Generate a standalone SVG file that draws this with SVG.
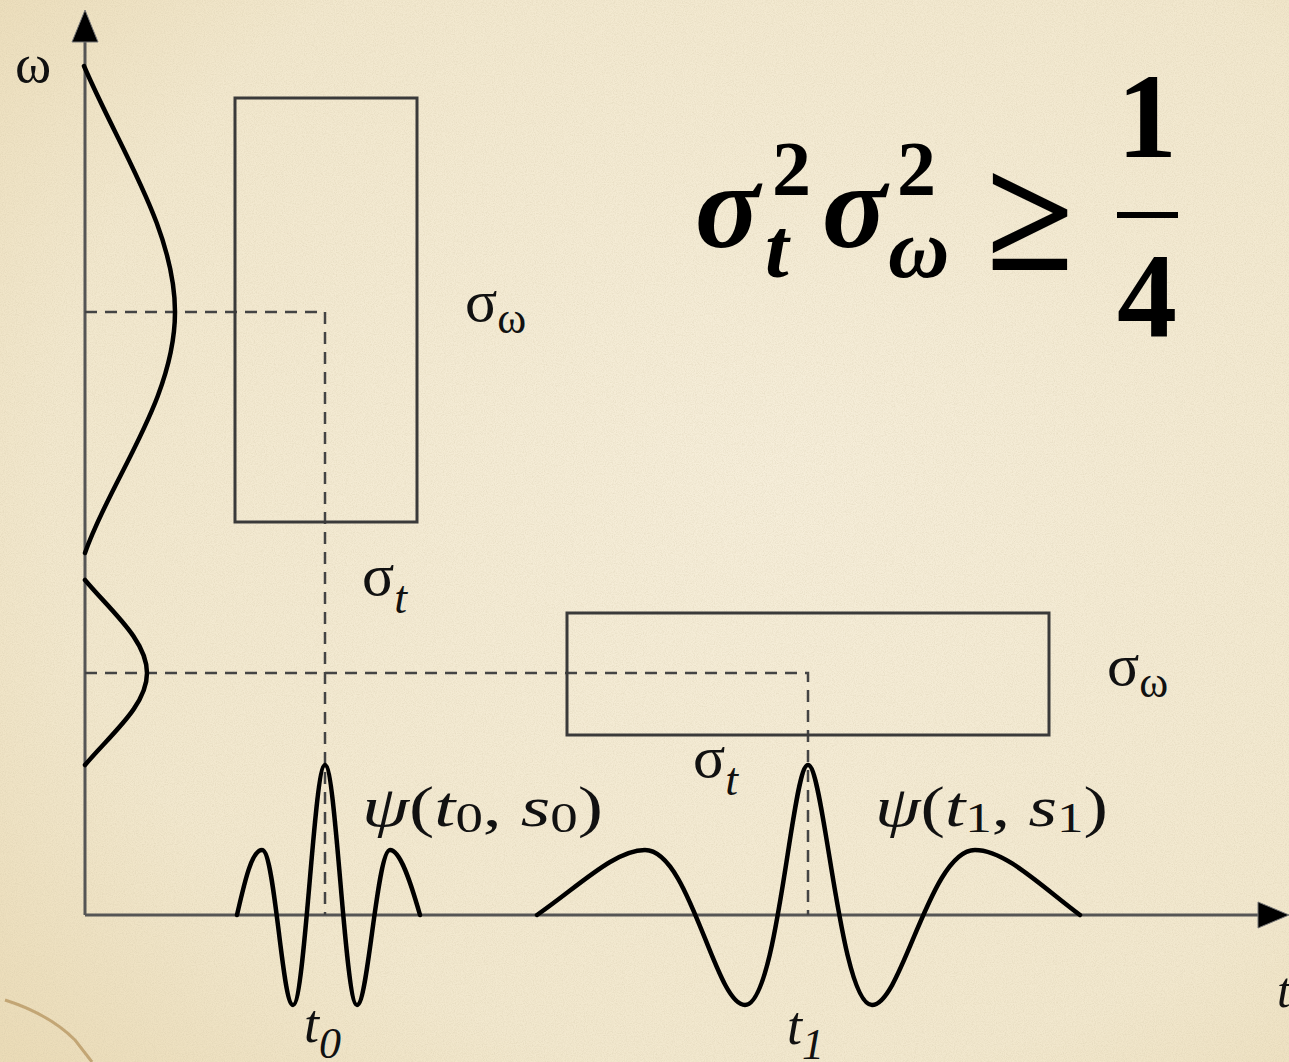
<svg xmlns="http://www.w3.org/2000/svg" width="1289" height="1062" viewBox="0 0 1289 1062">
<defs>
<radialGradient id="bg" cx="0.6" cy="0.45" r="0.8">
<stop offset="0" stop-color="#F6EEDA"/>
<stop offset="0.7" stop-color="#F2E8CE"/>
<stop offset="1" stop-color="#EBDCB8"/>
</radialGradient>
<filter id="paper" x="0" y="0" width="100%" height="100%">
<feTurbulence type="fractalNoise" baseFrequency="0.9" numOctaves="3" seed="4"/>
<feColorMatrix type="matrix" values="0 0 0 0 0.6  0 0 0 0 0.52  0 0 0 0 0.35  1.1 0 0 0 -0.4"/>
</filter>
<style>
.axis{stroke:#555;stroke-width:3;fill:none}
.head{fill:#000;stroke:#777;stroke-width:1}
.curve{stroke:#000;stroke-width:4.5;fill:none;stroke-linejoin:round;stroke-linecap:round}
.box{stroke:#3a3a3a;stroke-width:3;fill:none}
.dash{stroke:#444;stroke-width:2.5;stroke-dasharray:12 8;fill:none}
.lbl{font-family:"Liberation Serif","DejaVu Serif",serif;fill:#111}
.it{font-style:italic}
.fm{font-family:"Liberation Serif","DejaVu Serif",serif;fill:#000;font-weight:bold}
</style>
</defs>
<g id="background">
<rect width="1289" height="1062" fill="url(#bg)"/>
<rect width="1289" height="1062" filter="url(#paper)" opacity="0.5"/>
<path d="M5,1000 C30,1008 55,1020 75,1040 L92,1062" stroke="#A88248" stroke-width="3" fill="none" opacity="0.6"/>
</g>
<g id="axes">
<line class="axis" x1="85" y1="915" x2="85" y2="40"/>
<polygon class="head" points="85,10 72,42 98,42"/>
<line class="axis" x1="85" y1="915" x2="1262" y2="915"/>
<polygon class="head" points="1289,915 1258,902 1258,928"/>
</g>
<g id="connectors">
<polyline class="dash" points="85,312 325,312 325,915"/>
<polyline class="dash" points="85,673 808,673 808,915"/>
</g>
<g id="box-upper"><rect class="box" x="235" y="98" width="182" height="424"/></g>
<g id="box-lower"><rect class="box" x="567" y="613" width="482" height="122"/></g>
<g id="gauss-upper"><path class="curve" d="M84,66 C120,150 175,230 175,312 C175,400 110,480 85,553"/></g>
<g id="gauss-lower"><path class="curve" d="M85,580 C110,610 147,640 147,673 C147,706 110,735 85,765"/></g>
<g id="wavelet-0"><path class="curve" d="M237,915 C245,880 252,850 262,850 C275,850 282,1005 293,1005 C305,1005 314,765 325,765 C336,765 345,1005 357,1005 C368,1005 377,850 390,850 C400,850 410,880 420,915"/></g>
<g id="wavelet-1"><path class="curve" d="M537,915 C580,885 615,850 645,850 C690,850 715,1005 745,1005 C778,1005 792,765 808,765 C824,765 840,1005 872,1005 C902,1005 930,850 975,850 C1005,850 1040,885 1080,915"/></g>
<g id="labels">
<text class="lbl" x="15" y="82" font-size="55">ω</text>
<text class="lbl" x="1277" y="1007" font-size="50"><tspan class="it">t</tspan></text>
<text class="lbl" x="465" y="321" font-size="60">σ<tspan font-size="44" dy="12">ω</tspan></text>
<text class="lbl" x="362" y="595" font-size="60">σ<tspan class="it" font-size="46" dy="18">t</tspan></text>
<text class="lbl" x="1107" y="685" font-size="60">σ<tspan font-size="44" dy="12">ω</tspan></text>
<text class="lbl" x="693" y="777" font-size="60">σ<tspan class="it" font-size="46" dy="18">t</tspan></text>
<text class="lbl" x="362" y="826" font-size="58" textLength="241" lengthAdjust="spacingAndGlyphs"><tspan class="it">ψ</tspan>(<tspan class="it">t</tspan><tspan font-size="42" dy="6">0</tspan><tspan dy="-6">, </tspan><tspan class="it">s</tspan><tspan font-size="42" dy="6">0</tspan><tspan dy="-6">)</tspan></text>
<text class="lbl" x="875" y="826" font-size="58" textLength="233" lengthAdjust="spacingAndGlyphs"><tspan class="it">ψ</tspan>(<tspan class="it">t</tspan><tspan font-size="42" dy="6">1</tspan><tspan dy="-6">, </tspan><tspan class="it">s</tspan><tspan font-size="42" dy="6">1</tspan><tspan dy="-6">)</tspan></text>
<text class="lbl it" x="304" y="1042" font-size="54">t<tspan font-size="44" dy="16">0</tspan></text>
<text class="lbl it" x="787" y="1044" font-size="54">t<tspan font-size="44" dy="15">1</tspan></text>
</g>
<g id="formula">
<text class="fm it" x="695" y="247" font-size="120">σ</text>
<text class="fm" x="772" y="195" font-size="78">2</text>
<text class="fm it" x="765" y="277" font-size="85">t</text>
<text class="fm it" x="822" y="247" font-size="120">σ</text>
<text class="fm" x="897" y="195" font-size="78">2</text>
<text class="fm it" x="888" y="277" font-size="85">ω</text>
<text class="fm" x="986" y="270" font-size="160" font-weight="normal">≥</text>
<text class="fm" x="1147" y="157" font-size="120" text-anchor="middle">1</text>
<line x1="1117" y1="215" x2="1178" y2="215" stroke="#000" stroke-width="6"/>
<text class="fm" x="1147" y="337" font-size="120" text-anchor="middle">4</text>
</g>
</svg>
